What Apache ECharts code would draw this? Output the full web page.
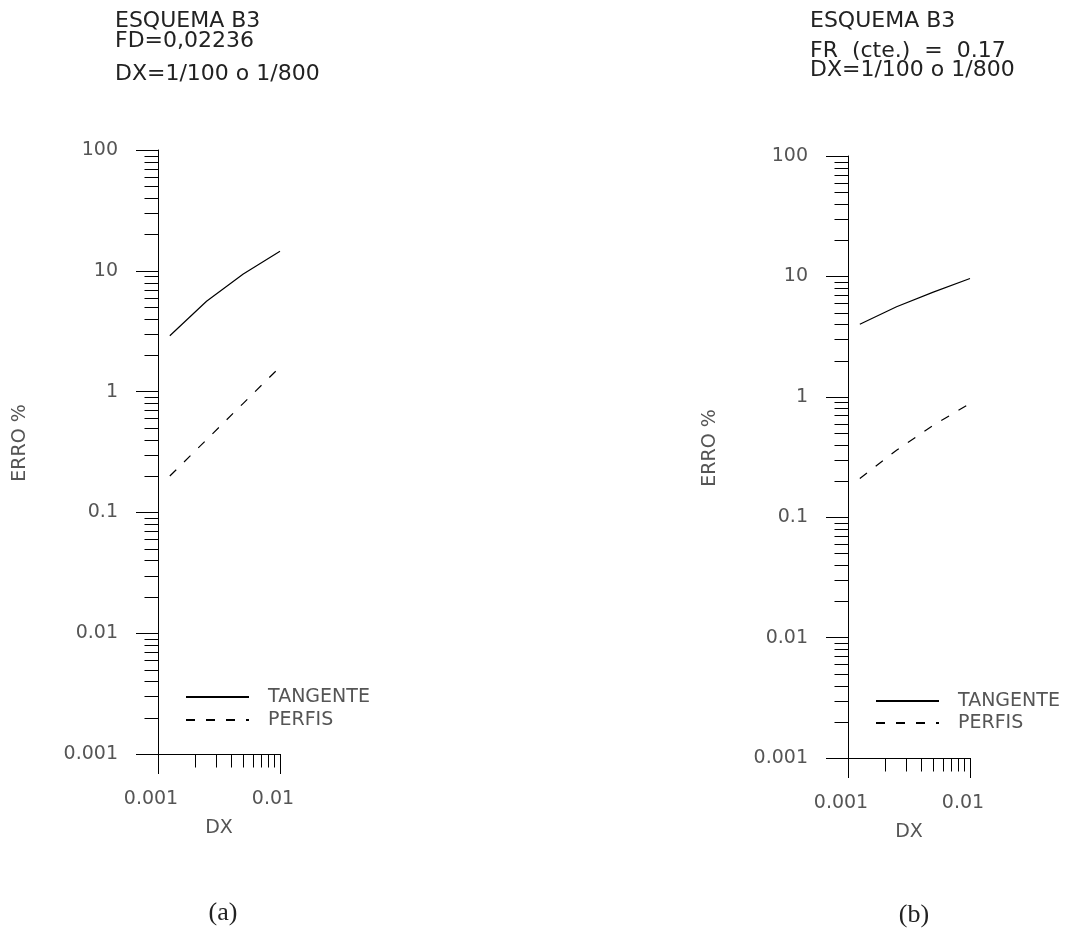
<!DOCTYPE html>
<html>
<head>
<meta charset="utf-8">
<script src="https://cdn.jsdelivr.net/npm/echarts@6/dist/echarts.min.js"></script>
<style>html,body{margin:0;padding:0;background:#fff;}#c{width:1075px;height:928px;}</style>
</head>
<body>
<div id="c"></div>
<script>
// ---- data ----
const dxValues = [1/800, 1/400, 1/200, 1/100];
const tangenteA = [2.9, 5.6, 9.4, 14.5];
const perfisA = [0.2, 0.4, 0.8, 1.6];
const tangenteB = [4.0, 5.6, 7.4, 9.6];
const perfisB = [0.21, 0.36, 0.58, 0.88];
const seriesNames = ['TANGENTE', 'PERFIS'];
const titleA = ['ESQUEMA B3', 'FD=0,02236', 'DX=1/100 o 1/800'];
const titleB = ['ESQUEMA B3', 'FR  (cte.)  =  0.17', 'DX=1/100 o 1/800'];
const panelLabels = ['(a)', '(b)'];
const yTickLabels = ['0.001', '0.01', '0.1', '1', '10', '100'];
const xTickLabels = ['0.001', '0.01'];
const yMinorTicks = [0.002,0.003,0.004,0.005,0.006,0.007,0.008,0.009,
                     0.02,0.03,0.04,0.05,0.06,0.07,0.08,0.09,
                     0.2,0.3,0.4,0.5,0.6,0.7,0.8,0.9,
                     2,3,4,5,6,7,8,9,
                     20,30,40,50,60,70,80,90];
const xMinorTicks = [0.002,0.003,0.004,0.005,0.006,0.007,0.008,0.009];
const axisName = {x: 'DX', y: 'ERRO %'};

// ---- chart ----
const chart = echarts.init(document.getElementById('c'));
const txtColor = '#555';
const lblFont = 'DejaVu Sans';

function yFmt(v){ const i = Math.round(Math.log10(v)) + 3; return yTickLabels[i] || ''; }
function xFmt(v){ const i = Math.round(Math.log10(v)) + 3; return xTickLabels[i] || ''; }

function xAxisCfg(gi){
  return {
    type: 'log', logBase: 10, gridIndex: gi, min: 0.001, max: 0.01,
    axisLine: {show: true, onZero: false, lineStyle: {color: '#000', width: 1}},
    axisTick: {show: true, inside: false, length: 20, lineStyle: {color: '#000', width: 1}},
    splitLine: {show: false}, minorTick: {show: false},
    axisLabel: {margin: 36, fontSize: 19, color: txtColor, fontFamily: lblFont, formatter: xFmt, padding: [0, 14, 0, 0]},
    name: axisName.x, nameLocation: 'middle', nameGap: 65,
    nameTextStyle: {fontSize: 19, color: txtColor, fontFamily: lblFont}
  };
}
function yAxisCfg(gi){
  return {
    type: 'log', logBase: 10, gridIndex: gi, min: 0.001, max: 100,
    axisLine: {show: true, onZero: false, lineStyle: {color: '#000', width: 1}},
    axisTick: {show: true, inside: false, length: 22, lineStyle: {color: '#000', width: 1}},
    splitLine: {show: false}, minorTick: {show: false},
    axisLabel: {margin: 40, fontSize: 19, color: txtColor, fontFamily: lblFont, formatter: yFmt},
    name: axisName.y, nameLocation: 'middle', nameGap: 128, nameRotate: 90,
    nameTextStyle: {fontSize: 19, color: txtColor, fontFamily: lblFont, padding: [0, 0, 0, 18]}
  };
}
function lineSeries(name, ys, gi, dashed){
  return {
    type: 'line', name: name, xAxisIndex: gi, yAxisIndex: gi,
    data: dxValues.map((x, i) => [x, ys[i]]),
    symbol: 'none', showSymbol: false, smooth: false,
    lineStyle: {color: '#000', width: 1.2, type: dashed ? [9, 11] : 'solid'},
    itemStyle: {color: '#000'}
  };
}
function yMinorSeries(gi){
  return {
    type: 'custom', xAxisIndex: gi, yAxisIndex: gi, silent: true,
    data: yMinorTicks.map(v => [0.001, v]),
    renderItem: function(params, api){
      const p = api.coord([api.value(0), api.value(1)]);
      const x = Math.round(p[0]) + 0.5, y = Math.round(p[1]) + 0.5;
      return {type: 'line', shape: {x1: x - 14, y1: y, x2: x, y2: y}, style: {stroke: '#000', lineWidth: 1}};
    }
  };
}
function xMinorSeries(gi){
  return {
    type: 'custom', xAxisIndex: gi, yAxisIndex: gi, silent: true,
    data: xMinorTicks.map(v => [v, 0.001]),
    renderItem: function(params, api){
      const p = api.coord([api.value(0), api.value(1)]);
      const x = Math.round(p[0]) + 0.5, y = Math.round(p[1]) + 0.5;
      return {type: 'line', shape: {x1: x, y1: y, x2: x, y2: y + 13}, style: {stroke: '#000', lineWidth: 1}};
    }
  };
}
function titleLines(lines, left, tops){
  return lines.map((t, i) => ({
    text: t, left: left, top: tops[i], padding: 0,
    textStyle: {fontSize: 22, fontWeight: 'normal', color: '#222', fontFamily: lblFont, lineHeight: 20}
  }));
}
function legendCfg(left, top, gap){
  return {
    orient: 'vertical', left: left, top: top, padding: 0,
    itemWidth: 63, itemHeight: 14, itemGap: gap,
    data: seriesNames, selectedMode: false,
    itemStyle: {opacity: 0},
    textStyle: {fontSize: 19, lineHeight: 20, color: txtColor, fontFamily: lblFont, padding: [0, 0, 0, 14]}
  };
}

const option = {
  backgroundColor: '#fff',
  animation: false,
  title: [].concat(
    titleLines(titleA, 115, [11, 31, 64]),
    titleLines(titleB, 810, [11, 41, 60])
  ),
  legend: [legendCfg(185, 687, 3), legendCfg(875, 691, 2)],
  grid: [
    {left: 158, top: 150, width: 122, height: 604},
    {left: 848, top: 156, width: 122, height: 602}
  ],
  xAxis: [xAxisCfg(0), xAxisCfg(1)],
  yAxis: [yAxisCfg(0), yAxisCfg(1)],
  series: [
    lineSeries(seriesNames[0], tangenteA, 0, false),
    lineSeries(seriesNames[1], perfisA, 0, true),
    lineSeries(seriesNames[0], tangenteB, 1, false),
    lineSeries(seriesNames[1], perfisB, 1, true),
    yMinorSeries(0), xMinorSeries(0), yMinorSeries(1), xMinorSeries(1)
  ],
  graphic: [
    {type: 'text', x: 223, y: 913, style: {text: panelLabels[0], font: '26px "Liberation Serif"', fill: '#222', textAlign: 'center', textVerticalAlign: 'middle'}},
    {type: 'text', x: 914, y: 915, style: {text: panelLabels[1], font: '26px "Liberation Serif"', fill: '#222', textAlign: 'center', textVerticalAlign: 'middle'}}
  ]
};
chart.setOption(option);
</script>
</body>
</html>
